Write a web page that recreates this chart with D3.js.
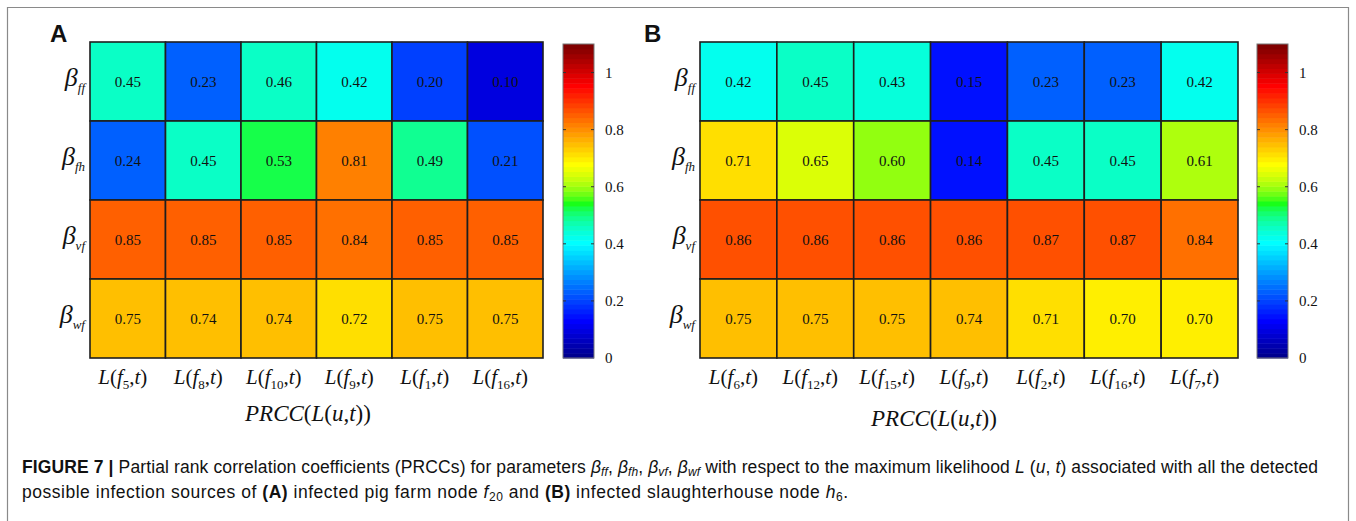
<!DOCTYPE html>
<html>
<head>
<meta charset="utf-8">
<script src="https://cdn.jsdelivr.net/npm/d3@7"></script>
<style>
  body { margin: 0; background: #fff; }
  svg { display: block; }
</style>
</head>
<body>
<div id="fig"></div>
<script>
// donnees
const params = ["ff", "fh", "vf", "wf"];

const colsA = ["5", "8", "10", "9", "1", "16"];
const valuesA = [
    [0.45, 0.23, 0.46, 0.42, 0.20, 0.10],
    [0.24, 0.45, 0.53, 0.81, 0.49, 0.21],
    [0.85, 0.85, 0.85, 0.84, 0.85, 0.85],
    [0.75, 0.74, 0.74, 0.72, 0.75, 0.75]
];

const colsB = ["6", "12", "15", "9", "2", "16", "7"];
const valuesB = [
    [0.42, 0.45, 0.43, 0.15, 0.23, 0.23, 0.42],
    [0.71, 0.65, 0.60, 0.14, 0.45, 0.45, 0.61],
    [0.86, 0.86, 0.86, 0.86, 0.87, 0.87, 0.84],
    [0.75, 0.75, 0.75, 0.74, 0.71, 0.70, 0.70]
];

const cbTicks = [0, 0.2, 0.4, 0.6, 0.8, 1];
const cbMax = 1.1;

const width = 1356, height = 521;
const serif = "'Liberation Serif', 'Times New Roman', serif";
const sans = "'Liberation Sans', Arial, sans-serif";

// colormap jet(64) comme matlab (couleurs un peu saturees comme sur l'image)
function jetMap(m) {
    const n = Math.ceil(m / 4);
    const u = [];
    for (let i = 1; i <= n; i++) u.push(i / n);
    for (let i = 1; i < n; i++) u.push(1);
    for (let i = n; i >= 1; i--) u.push(i / n);
    const off = Math.ceil(n / 2) - (m % 4 == 1 ? 1 : 0);
    const J = d3.range(m).map(() => [0, 0, 0]);
    u.forEach((v, k) => {
        const g = off + k + 1, r = g + n, b = g - n;
        if (r >= 1 && r <= m) J[r - 1][0] = v;
        if (g >= 1 && g <= m) J[g - 1][1] = v;
        if (b >= 1 && b <= m) J[b - 1][2] = v;
    });
    return J.map(c => {
        const mx = d3.max(c), mn = d3.min(c);
        const s = c.map(v => mx - mn > 0 ? mx * (v - mn) / (mx - mn) : v);
        // melange : on garde un peu de la couleur d'origine
        const f = 0.8;
        return d3.rgb(
            (f * s[0] + (1 - f) * c[0]) * 255,
            (f * s[1] + (1 - f) * c[1]) * 255,
            (f * s[2] + (1 - f) * c[2]) * 255).formatHex();
    });
}
const jet = jetMap(64);
const colorOf = v => jet[Math.max(0, Math.min(63, Math.floor(v / cbMax * 64)))];

const svg = d3.select("#fig").append("svg")
    .attr("width", width)
    .attr("height", height);

// cadre de la figure
svg.append("path")
    .attr("d", "M7.5," + height + "V7.5H1348.5V" + height)
    .attr("fill", "none")
    .attr("stroke", "#8a8a8a")
    .attr("stroke-width", 1.2);

function drawPanel(cfg) {
    const g = svg.append("g");

    const x = d3.scaleBand().domain(d3.range(cfg.cols.length)).range(cfg.xRange);
    const y = d3.scaleBand().domain(d3.range(params.length)).range([42, 358]);

    const cells = [];
    cfg.values.forEach((row, r) => row.forEach((v, c) => cells.push({ r: r, c: c, v: v })));

    g.selectAll("rect.cell")
        .data(cells)
        .join("rect")
        .attr("class", "cell")
        .attr("x", d => x(d.c))
        .attr("y", d => y(d.r))
        .attr("width", x.bandwidth())
        .attr("height", y.bandwidth())
        .attr("fill", d => colorOf(d.v))
        .attr("stroke", "#1e1e1e")
        .attr("stroke-width", 1.6);

    g.selectAll("text.val")
        .data(cells)
        .join("text")
        .attr("class", "val")
        .attr("x", d => x(d.c) + x.bandwidth() / 2)
        .attr("y", d => y(d.r) + y.bandwidth() / 2 + 5)
        .attr("text-anchor", "middle")
        .style("font-family", serif)
        .style("font-size", "15px")
        .style("fill", "#111")
        .text(d => d.v.toFixed(2));

    // lignes : beta
    const rl = g.selectAll("text.row")
        .data(params)
        .join("text")
        .attr("class", "row")
        .attr("x", cfg.xRange[0] - 5)
        .attr("y", (d, i) => y(i) + y.bandwidth() / 2 + 4)
        .attr("text-anchor", "end")
        .style("font-family", serif)
        .style("font-style", "italic")
        .style("fill", "#111");
    rl.append("tspan").style("font-size", "26px").text("\u03B2");
    rl.append("tspan").attr("dy", 6).style("font-size", "13px").text(d => d);

    // colonnes : L(f_i,t)
    const cl = g.selectAll("text.col")
        .data(cfg.cols)
        .join("text")
        .attr("class", "col")
        .attr("x", (d, i) => x(i) + x.bandwidth() / 2 - 5)
        .attr("y", 384)
        .attr("text-anchor", "middle")
        .style("font-family", serif)
        .style("font-size", "21px")
        .style("fill", "#111");
    cl.append("tspan").style("font-style", "italic").text("L");
    cl.append("tspan").text("(");
    cl.append("tspan").style("font-style", "italic").text("f");
    cl.append("tspan").attr("dy", 5).style("font-size", "13px").text(d => d);
    cl.append("tspan").attr("dy", -5).text(",");
    cl.append("tspan").style("font-style", "italic").text("t");
    cl.append("tspan").text(")");

    // titre axe x
    const t = g.append("text")
        .attr("x", cfg.titleX)
        .attr("y", cfg.titleY)
        .attr("text-anchor", "middle")
        .style("font-family", serif)
        .style("font-size", "23px")
        .style("fill", "#111");
    t.append("tspan").style("font-style", "italic").text("PRCC");
    t.append("tspan").text("(");
    t.append("tspan").style("font-style", "italic").text("L");
    t.append("tspan").text("(");
    t.append("tspan").style("font-style", "italic").text("u");
    t.append("tspan").text(",");
    t.append("tspan").style("font-style", "italic").text("t");
    t.append("tspan").text("))");

    // lettre du panneau
    g.append("text")
        .attr("x", cfg.letterX)
        .attr("y", 42)
        .style("font-family", sans)
        .style("font-weight", "bold")
        .style("font-size", "24px")
        .style("fill", "#111")
        .text(cfg.letter);

    // barre de couleur
    const cy = d3.scaleLinear().domain([0, cbMax]).range([358, 44]);
    const cw = 31;
    g.selectAll("rect.cb")
        .data(jet)
        .join("rect")
        .attr("class", "cb")
        .attr("x", cfg.cbX)
        .attr("y", (d, i) => cy((i + 1) * cbMax / 64))
        .attr("width", cw)
        .attr("height", (d, i) => cy(i * cbMax / 64) - cy((i + 1) * cbMax / 64) + 0.5)
        .attr("fill", d => d);
    g.append("rect")
        .attr("x", cfg.cbX)
        .attr("y", cy(cbMax))
        .attr("width", cw)
        .attr("height", cy(0) - cy(cbMax))
        .attr("fill", "none")
        .attr("stroke", "#777")
        .attr("stroke-width", 1);

    const axis = d3.axisRight(cy)
        .tickValues(cbTicks)
        .tickSize(0)
        .tickPadding(0)
        .tickFormat(d => d3.format("")(d));
    const ax = g.append("g")
        .attr("transform", "translate(" + (cfg.cbX + cw + 11) + ",0)")
        .call(axis);
    ax.select(".domain").remove();
    ax.selectAll("text")
        .style("font-family", serif)
        .style("font-size", "15px")
        .style("fill", "#111");

    g.selectAll("line.cbt")
        .data(cbTicks.filter(d => d > 0))
        .join("line")
        .attr("class", "cbt")
        .attr("x1", cfg.cbX + cw - 3)
        .attr("x2", cfg.cbX + cw)
        .attr("y1", d => cy(d))
        .attr("y2", d => cy(d))
        .attr("stroke", "#333")
        .attr("stroke-width", 1);
    g.selectAll("line.cbl")
        .data(cbTicks.filter(d => d > 0))
        .join("line")
        .attr("class", "cbl")
        .attr("x1", cfg.cbX)
        .attr("x2", cfg.cbX + 3)
        .attr("y1", d => cy(d))
        .attr("y2", d => cy(d))
        .attr("stroke", "#333")
        .attr("stroke-width", 1);
}

drawPanel({ cols: colsA, values: valuesA, xRange: [90, 543], cbX: 563, titleX: 308, titleY: 421, letter: "A", letterX: 50 });
drawPanel({ cols: colsB, values: valuesB, xRange: [700, 1238], cbX: 1257, titleX: 934, titleY: 426, letter: "B", letterX: 644 });

// legende de la figure
const cap1 = svg.append("text")
    .attr("x", 22)
    .attr("y", 473)
    .attr("textLength", 1296)
    .attr("lengthAdjust", "spacing")
    .style("font-family", sans)
    .style("font-size", "17.5px")
    .style("fill", "#111");
cap1.append("tspan").style("font-weight", "bold").text("FIGURE 7 | ");
cap1.append("tspan").text("Partial rank correlation coefficients (PRCCs) for parameters ");
params.forEach((p, i) => {
    cap1.append("tspan").style("font-style", "italic").text("\u03B2");
    cap1.append("tspan").attr("dy", 3).style("font-style", "italic").style("font-size", "12px").text(p);
    cap1.append("tspan").attr("dy", -3).text(i < params.length - 1 ? ", " : " ");
});
cap1.append("tspan").text("with respect to the maximum likelihood ");
cap1.append("tspan").style("font-style", "italic").text("L");
cap1.append("tspan").text(" (");
cap1.append("tspan").style("font-style", "italic").text("u");
cap1.append("tspan").text(", ");
cap1.append("tspan").style("font-style", "italic").text("t");
cap1.append("tspan").text(") associated with all the detected");

const cap2 = svg.append("text")
    .attr("x", 22)
    .attr("y", 498)
    .attr("textLength", 826)
    .attr("lengthAdjust", "spacing")
    .style("font-family", sans)
    .style("font-size", "17.5px")
    .style("fill", "#111");
cap2.append("tspan").text("possible infection sources of ");
cap2.append("tspan").style("font-weight", "bold").text("(A)");
cap2.append("tspan").text(" infected pig farm node ");
cap2.append("tspan").style("font-style", "italic").text("f");
cap2.append("tspan").attr("dy", 3).style("font-size", "12px").text("20");
cap2.append("tspan").attr("dy", -3).text(" and ");
cap2.append("tspan").style("font-weight", "bold").text("(B)");
cap2.append("tspan").text(" infected slaughterhouse node ");
cap2.append("tspan").style("font-style", "italic").text("h");
cap2.append("tspan").attr("dy", 3).style("font-size", "12px").text("6");
cap2.append("tspan").attr("dy", -3).text(".");
</script>
</body>
</html>
